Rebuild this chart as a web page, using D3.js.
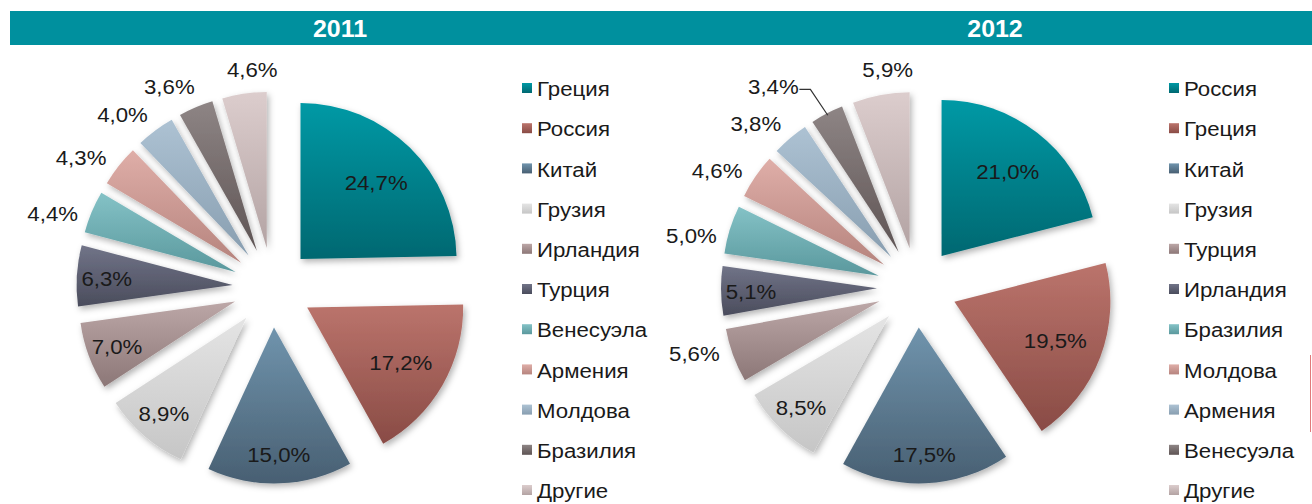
<!DOCTYPE html>
<html>
<head>
<meta charset="utf-8">
<script src="https://cdn.jsdelivr.net/npm/d3@7"></script>
<style>
  body { margin: 0; background: #fff; }
  svg { display: block; font-family: "Liberation Sans", Arial, sans-serif; }
</style>
</head>
<body>
<div id="chart"></div>
<script>
// data
var years = ['2011', '2012'];

var categories2011 = ['Греция', 'Россия', 'Китай', 'Грузия', 'Ирландия', 'Турция', 'Венесуэла', 'Армения', 'Молдова', 'Бразилия', 'Другие'];
var values2011 = [24.7, 17.2, 15.0, 8.9, 7.0, 6.3, 4.4, 4.3, 4.0, 3.6, 4.6];
var labelMode2011 = ['in', 'in', 'in', 'in', 'in', 'in', 'out', 'out', 'out', 'out', 'out'];

var categories2012 = ['Россия', 'Греция', 'Китай', 'Грузия', 'Турция', 'Ирландия', 'Бразилия', 'Молдова', 'Армения', 'Венесуэла', 'Другие'];
var values2012 = [21.0, 19.5, 17.5, 8.5, 5.6, 5.1, 5.0, 4.6, 3.8, 3.4, 5.9];
var labelMode2012 = ['in', 'in', 'in', 'in', 'out', 'in', 'out', 'out', 'out', 'leader', 'out'];

// slice colours by position (top / bottom of gradient)
var paletteTop = ['#0099a5', '#bb746c', '#7094ad', '#e4e4e4', '#bca7a7', '#717488', '#84c2c6', '#dfaea8', '#adc2d3', '#8e8585', '#dccdcd'];
var paletteBottom = ['#006871', '#894b45', '#485f72', '#c6c6c6', '#8c7777', '#4a4c5c', '#5a989d', '#b6847e', '#889eb0', '#5e5454', '#b3a3a3'];

var svgWidth = 1312;
var svgHeight = 504;
var radius = 156;
var explode = 40;
var textScale = 1.06;
var deg = Math.PI / 180;

var svg = d3.select('#chart')
    .append('svg')
    .attr('width', svgWidth)
    .attr('height', svgHeight);

var defs = svg.append('defs');

var shadow = defs.append('filter')
    .attr('id', 'shadow')
    .attr('x', '-20%').attr('y', '-20%')
    .attr('width', '140%').attr('height', '140%');
shadow.append('feDropShadow')
    .attr('dx', 2).attr('dy', 3)
    .attr('stdDeviation', 3)
    .attr('flood-color', '#000')
    .attr('flood-opacity', 0.3);

paletteTop.forEach(function (c, i) {
    var g = defs.append('linearGradient')
        .attr('id', 'grad' + i)
        .attr('x1', 0).attr('y1', 0)
        .attr('x2', 0).attr('y2', 1);
    g.append('stop').attr('offset', '0%').attr('stop-color', c);
    g.append('stop').attr('offset', '100%').attr('stop-color', paletteBottom[i]);
});

// header band
svg.append('rect')
    .attr('x', 10).attr('y', 11)
    .attr('width', svgWidth - 10).attr('height', 34)
    .attr('fill', '#00909e');

var fmt = d3.format('.1f');
function pct(v) { return fmt(v).replace('.', ',') + '%'; }

function drawPie(opts) {
    var cx = opts.cx, cy = opts.cy;

    svg.append('text')
        .attr('transform', 'translate(' + opts.titleX + ',29) scale(1.04,1)')
        .attr('text-anchor', 'middle')
        .attr('dominant-baseline', 'central')
        .attr('fill', '#fff')
        .style('font-size', '24px')
        .style('font-weight', 'bold')
        .text(opts.title);

    var data = opts.values.map(function (v, i) {
        return { name: opts.categories[i], value: v, mode: opts.modes[i], idx: i };
    });

    var pie = d3.pie().sort(null).value(function (d) { return d.value; });
    var arc = d3.arc().innerRadius(0).outerRadius(radius);
    var arcs = pie(data);

    function dir(a) { return [Math.sin(a), -Math.cos(a)]; }

    var g = svg.append('g').attr('transform', 'translate(' + cx + ',' + cy + ')');

    g.selectAll('path')
        .data(arcs)
        .enter()
        .append('path')
        .attr('transform', function (d) {
            var m = dir((d.startAngle + d.endAngle) / 2);
            return 'translate(' + (m[0] * explode) + ',' + (m[1] * explode) + ')';
        })
        .attr('d', arc)
        .attr('fill', function (d) { return 'url(#grad' + d.data.idx + ')'; })
        .attr('filter', 'url(#shadow)');

    arcs.forEach(function (d) {
        var mid = (d.startAngle + d.endAngle) / 2;
        var m = dir(mid);
        var pos;
        if (d.data.mode === 'in') {
            var dist = mid < 150 * deg ? 148 : 166;
            pos = [m[0] * dist, m[1] * dist];
        } else if (d.data.mode === 'out') {
            // nudge like Excel's best-fit: towards 9 o'clock, upward near the top
            var a = mid > 340 * deg ? mid + 3 * deg : (mid > 270 * deg ? mid - 4 * deg : mid + 4 * deg);
            var n = dir(a);
            var dOut = radius + explode + 12 + 22 * Math.abs(n[0]) + 10 * Math.abs(n[1]);
            pos = [n[0] * dOut, n[1] * dOut];
        } else {
            var la = dir(mid - 8 * deg);
            pos = [la[0] * 248, la[1] * 248];
            var edge = [m[0] * (explode + radius - 2), m[1] * (explode + radius - 2)];
            var sx = pos[0] + 26, sy = pos[1] + 4;
            g.append('polyline')
                .attr('points', [[sx, sy], [sx + 11, sy], edge].map(function (p) { return p.join(','); }).join(' '))
                .attr('fill', 'none')
                .attr('stroke', '#333')
                .attr('stroke-width', 1.2);
        }
        g.append('text')
            .attr('transform', 'translate(' + pos[0] + ',' + (pos[1] + 1) + ') scale(' + textScale + ',1)')
            .attr('text-anchor', 'middle')
            .attr('dominant-baseline', 'central')
            .attr('fill', '#1a1a1a')
            .style('font-size', '21px')
            .text(pct(d.data.value));
    });

    // legend
    var legend = svg.append('g')
        .attr('transform', 'translate(' + opts.legendX + ',88)');
    var item = legend.selectAll('g')
        .data(data)
        .enter()
        .append('g')
        .attr('transform', function (d, i) { return 'translate(0,' + (i * 40.2) + ')'; });
    item.append('rect')
        .attr('x', 0).attr('y', -5)
        .attr('width', 10).attr('height', 10)
        .attr('fill', function (d) { return 'url(#grad' + d.idx + ')'; });
    item.append('text')
        .attr('transform', 'translate(15,1) scale(' + textScale + ',1)')
        .attr('dominant-baseline', 'central')
        .attr('fill', '#1a1a1a')
        .style('font-size', '21px')
        .text(function (d) { return d.name; });
}

drawPie({
    title: years[0], titleX: 340, cx: 272.5, cy: 287.5, legendX: 522,
    categories: categories2011, values: values2011, modes: labelMode2011
});
drawPie({
    title: years[1], titleX: 995, cx: 917, cy: 287.5, legendX: 1169,
    categories: categories2012, values: values2012, modes: labelMode2012
});

// thin red mark at the right edge of the original picture
svg.append('line')
    .attr('x1', 1310.5).attr('x2', 1310.5)
    .attr('y1', 355).attr('y2', 432)
    .attr('stroke', '#e07a7a')
    .attr('stroke-width', 1);
</script>
</body>
</html>
